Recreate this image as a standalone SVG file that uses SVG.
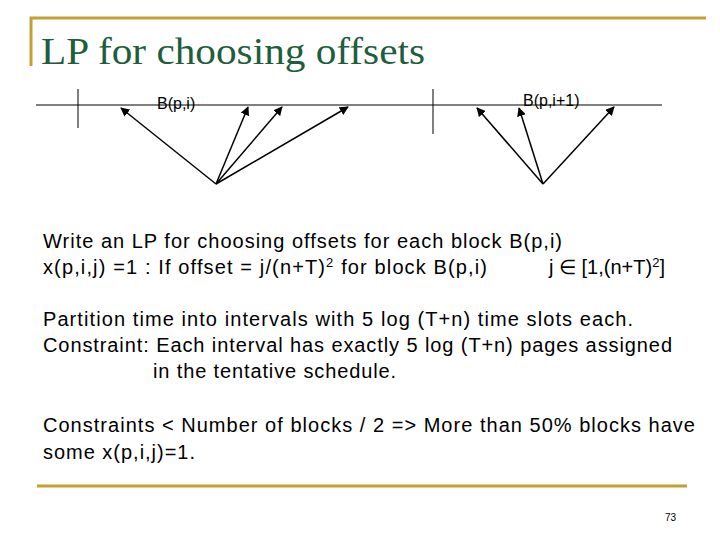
<svg xmlns="http://www.w3.org/2000/svg" width="720" height="540" viewBox="0 0 720 540">
<style>
.t{font-family:"Liberation Sans",Arial,sans-serif;font-size:20px;fill:#000}
.l{font-family:"Liberation Sans",Arial,sans-serif;font-size:16px;fill:#000}
.c{stroke:#000;stroke-width:1.5;fill:none;marker-end:url(#a)}
.g{stroke:#C4A033;stroke-width:3;fill:none}
</style>
<defs><marker id="a" viewBox="0 0 10 10" refX="9" refY="5" markerWidth="6" markerHeight="6" orient="auto"><path d="M0,0L10,5L0,10z" fill="#000"/></marker></defs>
<rect width="720" height="540" fill="#fff"/>
<path class="g" d="M31,66V18H706"/>
<path class="g" d="M37,486H687"/>
<text x="41" y="64" textLength="384" lengthAdjust="spacingAndGlyphs" style="font-family:'Liberation Serif',serif;font-size:38px;fill:#1E5E3C">LP for choosing offsets</text>
<g id="timeline" stroke="#000" stroke-width="1">
<line x1="36" y1="105" x2="662" y2="105"/>
<line x1="78" y1="89" x2="78" y2="128"/>
<line x1="433" y1="89" x2="433" y2="134"/>
</g>
<g id="labels">
<text class="l" x="157" y="109">B(p,i)</text>
<text class="l" x="523" y="106">B(p,i+1)</text>
</g>
<g id="connectors">
<line class="c" x1="216" y1="184" x2="121" y2="108"/>
<line class="c" x1="216" y1="184" x2="248" y2="107"/>
<line class="c" x1="216" y1="184" x2="282" y2="107"/>
<line class="c" x1="216" y1="184" x2="348" y2="107"/>
<line class="c" x1="543" y1="184" x2="477" y2="108"/>
<line class="c" x1="543" y1="184" x2="519" y2="108"/>
<line class="c" x1="543" y1="184" x2="614" y2="107"/>
</g>
<g id="text">
<text class="t" x="43" y="248" textLength="519">Write an LP  for choosing offsets for each block B(p,i)</text>
<text class="t" x="43" y="274" textLength="444">x(p,i,j) =1 :  If offset =  j/(n+T)<tspan font-size="13" dy="-7">2</tspan><tspan dy="7">  for block B(p,i)</tspan></text>
<text class="t" x="549" y="274">j ∈ [1,(n+T)<tspan font-size="13" dy="-7">2</tspan><tspan dy="7">]</tspan></text>
<text class="t" x="43" y="326" textLength="590">Partition time into intervals with  5 log (T+n) time slots each.</text>
<text class="t" x="43" y="352" textLength="629">Constraint: Each interval has exactly 5 log (T+n) pages assigned</text>
<text class="t" x="153" y="378" textLength="243">in the tentative schedule.</text>
<text class="t" x="43" y="432" textLength="652">Constraints &lt; Number of blocks / 2  =&gt; More than 50% blocks have</text>
<text class="t" x="43" y="459" textLength="152">some x(p,i,j)=1.</text>
<text x="665" y="521" style="font-family:'Liberation Sans',sans-serif;font-size:10px">73</text>
</g>
</svg>
